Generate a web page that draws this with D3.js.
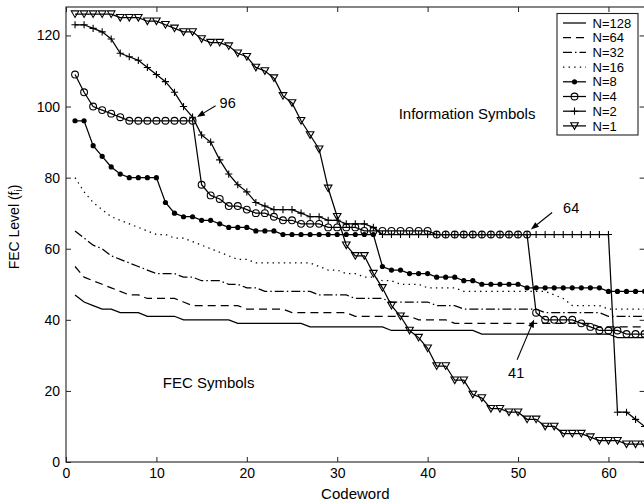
<!DOCTYPE html>
<html><head><meta charset="utf-8">
<script src="https://cdn.jsdelivr.net/npm/d3@7"></script>
<style>
body{margin:0;background:#fff}
svg{display:block}
text{font-family:"Liberation Sans",Arial,Helvetica,sans-serif;fill:#000}
</style>
</head><body>
<svg id="chart" width="644" height="501"></svg>
<script>
// ---------- data (codeword index 1..64) ----------
const n128 = [47,45,44,43,43,42,42,42,41,41,41,41,40,40,40,40,40,40,39,39,39,39,39,39,39,39,38,38,38,38,38,38,38,38,38,37,37,37,37,37,37,37,37,37,37,36,36,36,36,36,36,36,36,36,36,36,36,36,36,36,35,35,35,35];
const n64  = [55,52,51,50,49,48,47,47,46,46,46,46,45,44,44,44,44,44,44,43,43,43,43,43,42,42,42,42,42,42,42,41,41,41,41,41,41,41,40,40,40,40,39,39,39,39,39,39,39,39,39,39,39,39,39,39,39,39,38,38,38,38,38,38];
const n32  = [65,63,61,60,58,57,56,55,54,53,53,53,52,52,51,51,51,50,50,49,49,48,48,48,48,48,48,47,47,47,47,46,46,46,46,45,45,45,45,45,44,44,44,43,43,43,43,43,43,43,43,43,42,42,42,42,42,42,42,41,41,41,41,41];
const n16  = [80,76,73,71,69,68,67,66,65,64,64,63,63,62,61,60,59,58,57,57,56,56,56,56,56,56,56,55,54,54,53,53,52,52,51,51,50,50,50,49,49,49,49,48,48,48,48,48,48,48,48,48,48,47,46,44,44,44,44,43,43,43,43,43];
const n8   = [96,96,89,86,83,81,80,80,80,80,73,70,69,69,68,68,67,66,66,66,65,65,65,64,64,64,64,64,64,64,64,64,64,64,55,54,54,53,53,53,52,52,52,51,51,50,50,50,50,50,49,49,49,49,49,49,49,49,49,48,48,48,48,48];
const n4   = [109,104,100,99,98,97,96,96,96,96,96,96,96,96,78,75,74,72,72,71,70,70,69,68,68,67,67,67,66,66,66,66,65,65,65,65,65,65,65,65,64,64,64,64,64,64,64,64,64,64,64,42,40,40,40,40,39,38,37,37,37,36,36,36];
const n2   = [123,123,122,121,119,115,114,113,111,109,107,104,100,97,92,90,85,81,78,76,73,72,71,71,71,70,69,69,68,68,67,67,67,66,64,64,64,64,64,64,64,64,64,64,64,64,64,64,64,64,64,64,64,64,64,64,64,64,64,64,14,14,12,10];
const n1   = [126,126,126,126,126,125,125,125,124,124,123,122,121,121,119,118,118,117,115,114,111,110,108,103,101,96,92,88,77,69,61,58,58,53,49,44,41,37,35,32,27,27,23,23,19,18,15,15,14,14,12,12,10,10,8,8,8,7,6,6,6,5,5,5];
const seriesNames = ["N=128","N=64","N=32","N=16","N=8","N=4","N=2","N=1"];
const xTicks = [0,10,20,30,40,50,60];
const yTicks = [0,20,40,60,80,100,120];
const annotations = [{x:14,y:96,label:"96"},{x:51,y:64,label:"64"},{x:52,y:42,label:"41"}];
const regionLabels = [{x:36.8,y:96.5,label:"Information Symbols"},{x:10.7,y:20.8,label:"FEC Symbols"}];

// ---------- styles ----------
const styles = {
  "N=128":{dash:null, marker:null},
  "N=64":{dash:"8,5", marker:null},
  "N=32":{dash:"9,3,1.5,3", marker:null},
  "N=16":{dash:"1.4,4.2", marker:null},
  "N=8":{dash:null, marker:"dot"},
  "N=4":{dash:null, marker:"circle"},
  "N=2":{dash:null, marker:"plus"},
  "N=1":{dash:null, marker:"tri"}
};
const allSeries = [n128,n64,n32,n16,n8,n4,n2,n1];

const svg = d3.select("#chart");
const L = 66, R = 644.6, T = 7, B = 462;
const x = d3.scaleLinear().domain([0,64]).range([L,R]);
const y = d3.scaleLinear().domain([0,128]).range([B,T]);

// axes with inward ticks
const axB = svg.append("g").attr("transform",`translate(0,${B})`)
  .call(d3.axisBottom(x).tickValues(xTicks).tickSizeInner(-5).tickSizeOuter(0).tickPadding(6));
const axL = svg.append("g").attr("transform",`translate(${L},0)`)
  .call(d3.axisLeft(y).tickValues(yTicks).tickSizeInner(-5).tickSizeOuter(0).tickPadding(6));
const axT = svg.append("g").attr("transform",`translate(0,${T})`)
  .call(d3.axisTop(x).tickValues(xTicks).tickSizeInner(-5).tickSizeOuter(0).tickFormat(""));
const axR = svg.append("g").attr("transform",`translate(${R},0)`)
  .call(d3.axisRight(y).tickValues(yTicks).tickSizeInner(-5).tickSizeOuter(0).tickFormat(""));
[axB,axL,axT,axR].forEach(g=>{
  g.select(".domain").remove();
  g.selectAll(".tick line").attr("stroke","#222").attr("stroke-width",1);
  g.selectAll(".tick text").attr("font-size",14).attr("font-family",'"Liberation Sans",Arial,sans-serif').attr("fill","#000");
});
svg.append("rect").attr("x",L).attr("y",T).attr("width",R-L).attr("height",B-T)
  .attr("fill","none").attr("stroke","#222").attr("stroke-width",1.1);

// markers
function drawMarker(g, type, cx, cy){
  if(type==="dot"){
    g.append("circle").attr("cx",cx).attr("cy",cy).attr("r",2.6).attr("fill","#000");
  } else if(type==="circle"){
    g.append("circle").attr("cx",cx).attr("cy",cy).attr("r",3.4).attr("fill","none").attr("stroke","#000").attr("stroke-width",1.1);
  } else if(type==="plus"){
    g.append("path").attr("d",`M${cx-3.6},${cy}H${cx+3.6}M${cx},${cy-3.6}V${cy+3.6}`).attr("stroke","#000").attr("stroke-width",1.1);
  } else if(type==="tri"){
    g.append("path").attr("d",`M${cx-3.8},${cy-3.2}L${cx+3.8},${cy-3.2}L${cx},${cy+3.4}Z`).attr("fill","none").attr("stroke","#000").attr("stroke-width",1.1);
  }
}

const line = d3.line().x((d,i)=>x(i+1)).y(d=>y(d));
const plot = svg.append("g");
allSeries.forEach((vals,si)=>{
  const st = styles[seriesNames[si]];
  const g = plot.append("g");
  g.append("path").attr("d",line(vals)).attr("fill","none").attr("stroke","#000")
    .attr("stroke-width",1.25).attr("stroke-dasharray",st.dash);
  if(st.marker){
    vals.forEach((v,i)=>drawMarker(g, st.marker, x(i+1), y(v)));
  }
});

// annotations
const arrowOff = {"96":{tip:[4.4,-3.7],tail:[23,-15],lab:[27,-12.5]},
                  "64":{tip:[3.8,-5],tail:[25,-22],lab:[36,-21.5]},
                  "41":{tip:[-2,6.8],tail:[-19,47],lab:[-28,65.5]}};
annotations.forEach(a=>{
  const px = x(a.x), py = y(a.y), o = arrowOff[a.label];
  const tx = px+o.tip[0], ty = py+o.tip[1], sx = px+o.tail[0], sy = py+o.tail[1];
  const ang = Math.atan2(ty-sy, tx-sx), len = 8, w = 3;
  const bx = tx - len*Math.cos(ang), by = ty - len*Math.sin(ang);
  svg.append("line").attr("x1",sx).attr("y1",sy).attr("x2",bx).attr("y2",by).attr("stroke","#000").attr("stroke-width",1.1);
  svg.append("path").attr("d",`M${tx},${ty}L${bx - w*Math.sin(ang)},${by + w*Math.cos(ang)}L${bx + w*Math.sin(ang)},${by - w*Math.cos(ang)}Z`).attr("fill","#000");
  svg.append("text").attr("x",px+o.lab[0]).attr("y",py+o.lab[1]).attr("font-size",14.5).text(a.label);
});

regionLabels.forEach(r=>{
  svg.append("text").attr("x",x(r.x)).attr("y",y(r.y)).attr("font-size",15).text(r.label);
});

// axis titles
svg.append("text").attr("x",(L+R)/2).attr("y",499).attr("text-anchor","middle").attr("font-size",15).text("Codeword");
const yt = svg.append("text").attr("transform","translate(19,227) rotate(-90)").attr("text-anchor","middle").attr("font-size",14);
yt.append("tspan").text("FEC Level (f");
yt.append("tspan").attr("font-size",10).attr("dy",3).text("i");
yt.append("tspan").attr("dy",-3).text(")");

// legend
const lg = svg.append("g");
lg.append("rect").attr("x",557).attr("y",13.5).attr("width",81).attr("height",121.5)
  .attr("fill","#fff").attr("stroke","#222").attr("stroke-width",1.1);
seriesNames.forEach((nm,i)=>{
  const cy = 23 + i*14.7, st = styles[nm];
  lg.append("line").attr("x1",563).attr("x2",586).attr("y1",cy).attr("y2",cy)
    .attr("stroke","#000").attr("stroke-width",1.25).attr("stroke-dasharray",st.dash);
  if(st.marker) drawMarker(lg, st.marker, 574.5, cy);
  lg.append("text").attr("x",592.5).attr("y",cy+4.6).attr("font-size",13).text(nm);
});
</script>
</body></html>
